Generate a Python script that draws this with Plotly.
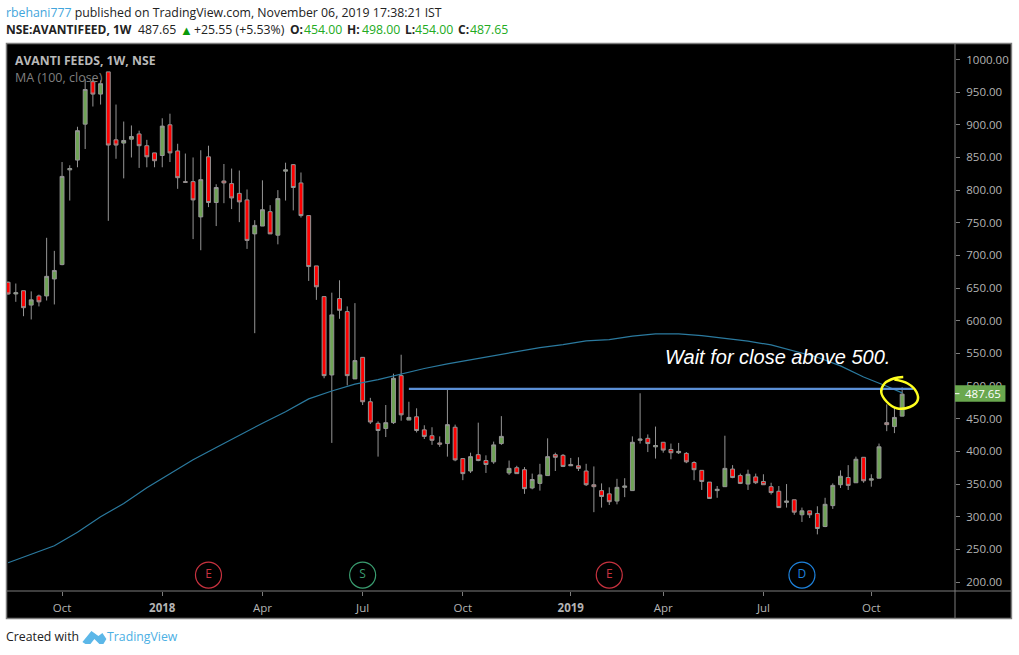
import pandas as pd
import plotly.graph_objects as go

W, H = 1019, 655
L, R, T, B = 6.5, 955.5, 43.5, 591.0

opens = [659, 641, 646, 624, 638, 638, 664, 686, 831, 846, 901, 966, 947, 981, 877, 872, 878, 886, 868, 857,
         853, 900, 860, 813, 813, 759, 851, 781, 814, 810, 795, 785, 733, 745, 767, 731, 829, 839, 811, 761,
         684, 637, 517, 634, 614, 511, 544, 476, 443, 435, 444, 516, 448, 453, 433, 424, 413, 412, 437, 389,
         370, 395, 386, 384, 412, 367, 375, 372, 344, 351, 363, 395, 394, 380, 378, 370, 349, 340, 335, 324,
         345, 340, 417, 420, 407, 414, 403, 398, 397, 383, 371, 353, 340, 346, 373, 363, 350, 361, 354, 346,
         339, 322, 326, 303, 309, 305, 285, 317, 349, 360, 352, 391, 356, 359, 444, 438, 454]
highs = [660, 657, 646, 645, 640, 727, 707, 843, 838, 897, 970, 969, 968, 981, 931, 905, 899, 891, 877, 857,
         910, 917, 871, 856, 850, 861, 868, 809, 840, 833, 830, 801, 754, 815, 777, 800, 842, 840, 827, 761,
         684, 637, 643, 662, 622, 627, 544, 482, 446, 471, 519, 548, 476, 466, 440, 437, 423, 494, 441, 389,
         398, 444, 394, 415, 454, 386, 378, 376, 366, 381, 420, 398, 396, 390, 391, 381, 377, 351, 345, 358,
         359, 423, 489, 426, 438, 414, 412, 413, 399, 385, 371, 353, 347, 424, 379, 366, 372, 366, 365, 352,
         347, 350, 326, 314, 309, 316, 329, 351, 371, 379, 392, 391, 365, 412, 472, 468, 498]
lows = [640, 629, 607, 602, 622, 631, 625, 685, 784, 835, 863, 928, 931, 753, 848, 818, 850, 834, 835, 835,
        835, 843, 802, 812, 725, 708, 774, 745, 780, 771, 751, 710, 581, 745, 733, 717, 784, 769, 758, 661,
        632, 512, 413, 603, 501, 511, 471, 442, 392, 422, 442, 447, 448, 429, 419, 410, 407, 392, 385, 356,
        367, 385, 367, 381, 410, 364, 366, 335, 342, 340, 363, 370, 376, 378, 370, 347, 307, 314, 318, 319,
        330, 340, 412, 399, 389, 398, 388, 396, 382, 356, 341, 328, 329, 346, 359, 350, 341, 350, 349, 334,
        314, 314, 303, 292, 298, 273, 284, 312, 344, 341, 352, 352, 346, 359, 431, 428, 454]
closes = [641, 643, 620, 632, 629, 668, 677, 821, 833, 891, 954, 947, 963, 869, 869, 876, 882, 868, 851, 845,
          898, 857, 819, 812, 785, 816, 781, 804, 811, 788, 782, 723, 746, 770, 733, 787, 831, 804, 761, 683,
          652, 516, 609, 616, 516, 539, 476, 445, 432, 444, 512, 456, 452, 432, 423, 417, 411, 441, 387, 366,
          392, 386, 380, 410, 423, 374, 366, 343, 357, 364, 392, 391, 377, 378, 374, 349, 346, 331, 323, 345,
          347, 414, 419, 412, 409, 402, 398, 400, 384, 372, 354, 328, 342, 374, 360, 351, 365, 352, 349, 337,
          314, 324, 307, 309, 303, 282, 319, 348, 362, 348, 388, 355, 358, 407, 441, 452, 487.65]

# MA(100) every third week, last one at the final bar
ma_weeks = [0, 3, 6, 9, 12, 15, 18, 21, 24, 27, 30, 33, 36, 39, 42, 45, 48, 51, 54, 57, 60, 63, 66, 69, 72, 75,
            78, 81, 84, 87, 90, 93, 96, 99, 102, 105, 108, 111, 114, 116]
ma_values = [229.5, 242.8, 255.5, 276.4, 299.9, 320.3, 344.3, 365.7, 387.1, 406, 424.9, 443.2, 460.6, 480.4,
             492.5, 502.9, 510, 518.7, 526.9, 534, 540, 546.2, 552.3, 559, 563.6, 569.2, 571.2, 576.5, 579.9,
             579.9, 577.3, 573.3, 568.7, 563, 553.9, 544.2, 531, 514, 499.8, 489.6]

tick_dates = ["2017-10-02", "2018-01-01", "2018-04-02", "2018-07-02", "2018-10-01", "2019-01-07", "2019-04-01",
              "2019-07-01", "2019-10-07"]
tick_names = ["Oct", "<b>2018</b>", "Apr", "Jul", "Oct", "<b>2019</b>", "Apr", "Jul", "Oct"]
price_ticks = [200, 250, 300, 350, 400, 450, 500, 550, 600, 650, 700, 750, 800, 850, 900, 950, 1000]

event_dates = ["2018-02-12", "2018-07-02", "2019-02-11", "2019-08-05"]
event_names = ["E", "S", "E", "D"]
event_colors = ["#c8323f", "#3a9d70", "#c8323f", "#1e82dc"]
event_level = [210.7, 210.7, 210.7, 210.7]

level_dates = ["2018-08-13", "2019-11-14"]
level_prices = [495.7, 495.7]

circle_dates = ["2019-11-05", "2019-10-28", "2019-10-19", "2019-10-16", "2019-10-21", "2019-10-30", "2019-11-11",
                "2019-11-18", "2019-11-17", "2019-11-09", "2019-10-28"]
circle_prices = [514, 512, 504, 491, 476, 466, 468, 478, 491, 504, 510]

week_dates = pd.date_range("2017-08-14", periods=len(opens), freq="7D")
ma_dates = [week_dates[i] for i in ma_weeks]

GREY = "#7d7d7d"
TEXT = "#b4b4b4"
FONT = "Open Sans"
UP = "#22ab22"
INK = "#222222"


def px(x):
    return (x - L) / (R - L)


def py(y):
    return (B - y) / (B - T)


fig = go.Figure()
fig.add_trace(go.Candlestick(
    x=week_dates, open=opens, high=highs, low=lows, close=closes,
    increasing=dict(line=dict(color="#959595", width=1), fillcolor="#6fa356"),
    decreasing=dict(line=dict(color="#959595", width=1), fillcolor="#ff0000"),
    whiskerwidth=0,
))
fig.add_trace(go.Scatter(x=ma_dates, y=ma_values, mode="lines", line=dict(color="#2b7a9f", width=1.2)))
fig.add_trace(go.Scatter(x=level_dates, y=level_prices, mode="lines", line=dict(color="#5b8fd6", width=2.2)))
fig.add_trace(go.Scatter(x=circle_dates, y=circle_prices, mode="lines",
                         line=dict(color="#ffff1e", width=2.5, shape="spline", smoothing=1)))
fig.add_trace(go.Scatter(
    x=event_dates, y=event_level, mode="markers+text", text=event_names, textposition="middle center",
    textfont=dict(family=FONT, size=12, color=event_colors),
    marker=dict(symbol="circle-open", size=26, color=event_colors, line=dict(width=1.2, color=event_colors)),
))

shapes = [
    dict(type="rect", xref="paper", yref="paper", x0=px(6), x1=px(1012), y0=py(43), y1=py(618.5), layer="below",
         fillcolor="#000000", line=dict(color=GREY, width=1.5)),
    dict(type="line", xref="paper", yref="paper", x0=px(R), x1=px(R), y0=py(T), y1=py(618.5),
         line=dict(color=GREY, width=1)),
    dict(type="line", xref="paper", yref="paper", x0=px(6), x1=px(1012), y0=py(B), y1=py(B),
         line=dict(color=GREY, width=1)),
    dict(type="rect", xref="paper", yref="paper", x0=px(955.5), x1=px(1006), y0=py(385), y1=py(401.7),
         fillcolor="#6aa84f", line=dict(width=0)),
    dict(type="line", xref="paper", yref="paper", x0=px(955.5), x1=px(960), y0=py(393.5), y1=py(393.5),
         line=dict(color="#ffffff", width=1)),
    # TradingView logo, two humps of a cloud
    dict(type="path", xref="paper", yref="paper", fillcolor="#5cb7e8", line=dict(width=0),
         path=" ".join([
             f"M {px(82)} {py(642)}", f"L {px(91)} {py(631)}", f"L {px(98)} {py(636)}", f"L {px(102)} {py(633)}",
             f"L {px(106)} {py(639)}", f"L {px(103)} {py(644)}", f"L {px(99)} {py(644)}", f"L {px(94)} {py(639)}",
             f"L {px(90)} {py(644)}", f"L {px(85)} {py(644)}", "Z"])),
]

notes = [
    dict(x=px(4.5), y=py(12), font=dict(size=12.3, color=INK),
         text='<span style="color:#42a5dc">rbehani777</span> published on TradingView.com, '
              'November 06, 2019 17:38:21 IST'),
    dict(x=px(4.5), y=py(29), font=dict(size=12, color=INK), text="<b>NSE:AVANTIFEED, 1W</b>"),
    dict(x=px(137), y=py(29), font=dict(size=12.3, color=INK), text="487.65"),
    dict(x=px(179), y=py(29), font=dict(size=13, color="#0a9a0a"), text="▲"),
    dict(x=px(193), y=py(29), font=dict(size=12.3, color=INK), text="+25.55 (+5.53%)"),
    dict(x=px(289), y=py(29), font=dict(size=12, color=INK), text="<b>O:</b>"),
    dict(x=px(303), y=py(29), font=dict(size=12.3, color=UP), text="454.00"),
    dict(x=px(346), y=py(29), font=dict(size=12, color=INK), text="<b>H:</b>"),
    dict(x=px(361), y=py(29), font=dict(size=12.3, color=UP), text="498.00"),
    dict(x=px(404), y=py(29), font=dict(size=12, color=INK), text="<b>L:</b>"),
    dict(x=px(414), y=py(29), font=dict(size=12.3, color=UP), text="454.00"),
    dict(x=px(457), y=py(29), font=dict(size=12, color=INK), text="<b>C:</b>"),
    dict(x=px(469), y=py(29), font=dict(size=12.3, color=UP), text="487.65"),
    dict(x=px(14), y=py(60.5), font=dict(size=12.2, color="#b9b9b9"), text="<b>AVANTI FEEDS, 1W, NSE</b>"),
    dict(x=px(14), y=py(77), font=dict(size=12.5, color="#7f7f7f"), text="MA (100, close)"),
    dict(x=px(664), y=py(357), font=dict(family="Liberation Sans", size=20, color="#ffffff"),
         text="<i>Wait for close above 500.</i>"),
    dict(x=px(965), y=py(393.5), font=dict(size=11.5, color="#ffffff"), text="487.65"),
    dict(x=px(4.5), y=py(637), font=dict(size=12.3, color=INK), text="Created with"),
    dict(x=px(106), y=py(637), font=dict(size=12.3, color="#4cb0e4"), text="TradingView"),
]
for n in notes:
    n.update(xref="paper", yref="paper", xanchor="left", yanchor="middle", showarrow=False, borderpad=0)

fig.update_layout(
    width=W, height=H, autosize=False,
    margin=dict(l=L, r=W - R, t=T, b=H - B, pad=0),
    paper_bgcolor="#ffffff", plot_bgcolor="#000000",
    font=dict(family=FONT, size=11.5, color=TEXT),
    showlegend=False, boxgap=0.28,
    shapes=shapes, annotations=notes,
    xaxis=dict(type="date", range=["2017-08-13", "2019-12-22"], rangeslider=dict(visible=False),
               tickmode="array", tickvals=tick_dates, ticktext=tick_names, ticks="outside", ticklen=4,
               tickcolor=GREY, ticklabelstandoff=2, tickfont=dict(color=TEXT, size=11.5),
               showgrid=False, zeroline=False, showline=False),
    yaxis=dict(range=[186.3, 1023.7], side="right", tickmode="array", tickvals=price_ticks,
               tickformat=".2f", ticks="outside", ticklen=4, tickcolor=GREY, ticklabelstandoff=4,
               tickfont=dict(color=TEXT, size=11.5), showgrid=False, zeroline=False, showline=False),
)

# the page's default 8px body margin would shift the whole chart
fig.write_html("out.html", config={"displayModeBar": False}, post_script="document.body.style.margin = '0';")
